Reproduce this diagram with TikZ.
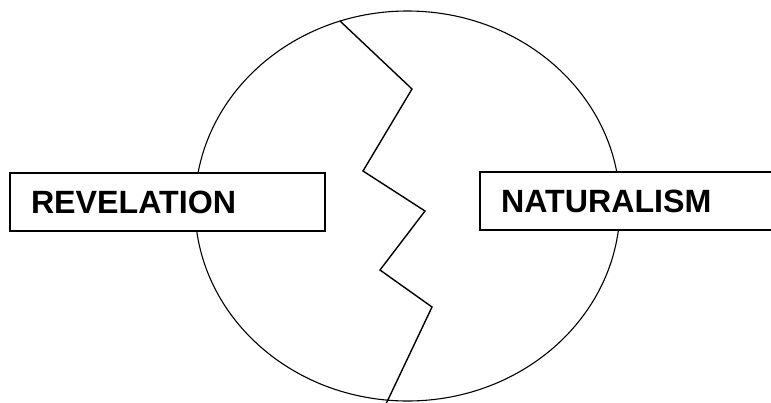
\documentclass[tikz,border=0pt]{standalone}
\usepackage{fontspec}
\setmainfont{Liberation Sans}
\usepackage{tikz}
\usetikzlibrary{positioning}
\tikzset{
  labbox/.style={rectangle,draw=black,line width=1.6pt,fill=white,minimum height=58pt,inner xsep=21pt,align=left,font=\fontsize{32.2}{36}\selectfont\bfseries},
  crack/.style={draw=black,line width=1.4pt,line join=miter},
  world/.style={draw=black,line width=1.1pt}
}
\begin{document}
\begin{tikzpicture}[x=1pt,y=-1pt]
  \useasboundingbox (0,0) rectangle (771,402);
  \clip (0,0) rectangle (771,402);

  % outer circle
  \draw[world] (407.5,206) ellipse [x radius=212.5pt, y radius=195pt];

  % crack through the middle
  \coordinate (c0) at (340,21);
  \coordinate (c1) at (412,89);
  \coordinate (c2) at (363,171);
  \coordinate (c3) at (425,211);
  \coordinate (c4) at (380,270);
  \coordinate (c5) at (432,307);
  \coordinate (c6) at (386,404);
  \draw[crack] (c0) -- (c1) -- (c2) -- (c3) -- (c4) -- (c5) -- (c6);

  % labels
  \node[labbox,text width=273pt] (rev) at (167.5,202) {REVELATION};
  \node[labbox,text width=278pt] (nat) at (640,201) {NATURALISM};
\end{tikzpicture}
\end{document}
